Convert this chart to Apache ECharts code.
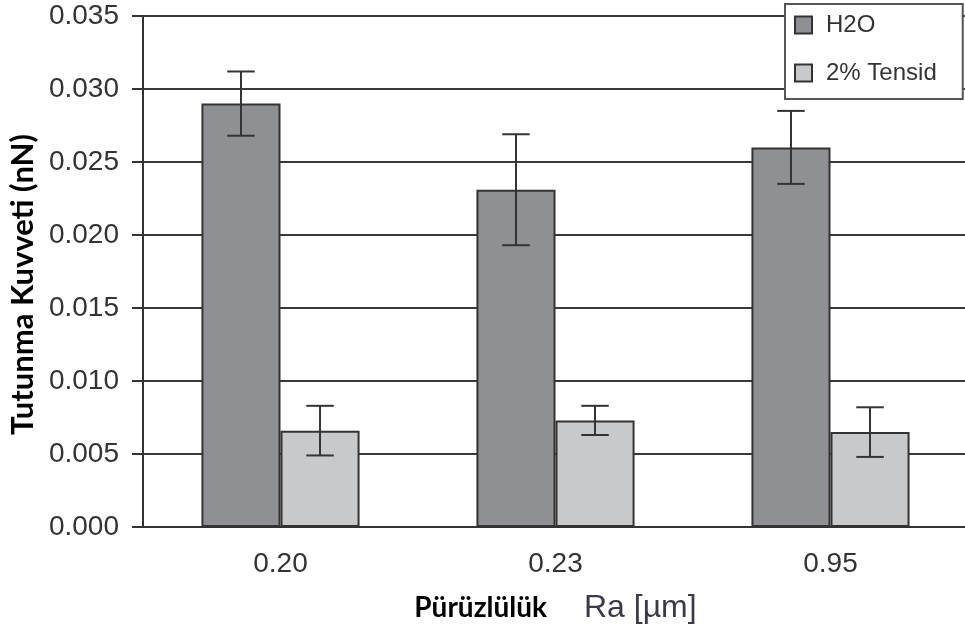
<!DOCTYPE html>
<html>
<head>
<meta charset="utf-8">
<script src="https://cdn.jsdelivr.net/npm/echarts@6/dist/echarts.min.js"></script>
<style>
  html, body { margin: 0; padding: 0; background: #fff; }
  #main { width: 965px; height: 635px; }
</style>
</head>
<body>
<div id="main"></div>
<script>
// values
var categories = ['0.20', '0.23', '0.95'];
var h2oValues = [0.0290, 0.0231, 0.0260];
var h2oErrors = [0.0022, 0.0038, 0.0025];
var tensidValues = [0.0066, 0.0073, 0.0065];
var tensidErrors = [0.0017, 0.0010, 0.0017];
var yTicks = { min: 0, max: 0.035, interval: 0.005 };

var BAR_GAP = '42.5%';
var INK = '#333';

function errorData(values, errors) {
    var list = [];
    for (var i = 0; i < values.length; i++) {
        list.push([i, values[i] - errors[i], values[i] + errors[i]]);
    }
    return list;
}

// draws one error bar; side is -1 for left bar, +1 for right bar
function errorRenderer(side) {
    return function(params, api) {
        var i = api.value(0);
        var lo = api.coord([i, api.value(1)]);
        var hi = api.coord([i, api.value(2)]);
        var band = api.size([1, 0])[0];
        var x = lo[0] + side * band * 0.14375;
        var half = band * 0.05;
        var style = { stroke: INK, lineWidth: 2 };
        return {
            type: 'group',
            children: [
                { type: 'line', shape: { x1: x, y1: lo[1], x2: x, y2: hi[1] }, style: style },
                { type: 'line', shape: { x1: x - half, y1: hi[1], x2: x + half, y2: hi[1] }, style: style },
                { type: 'line', shape: { x1: x - half, y1: lo[1], x2: x + half, y2: lo[1] }, style: style }
            ]
        };
    };
}

var chart = echarts.init(document.getElementById('main'));
chart.setOption({
    animation: false,
    backgroundColor: '#fff',
    textStyle: { fontFamily: 'Liberation Sans', color: INK },
    grid: { left: 143, right: -3, top: 16, bottom: 108, containLabel: false, outerBoundsMode: 'none' },
    legend: {
        orient: 'vertical',
        left: 785,
        top: 4,
        data: ['H2O', '2% Tensid'],
        backgroundColor: '#fff',
        borderColor: '#555',
        borderWidth: 2,
        borderRadius: 0,
        padding: [9, 26, 14, 9],
        itemGap: 24,
        itemWidth: 17,
        itemHeight: 17,
        icon: 'rect',
        selectedMode: false,
        textStyle: { fontSize: 24, lineHeight: 24, color: INK, fontFamily: 'Liberation Sans', padding: [0, 0, 0, 9] }
    },
    xAxis: {
        type: 'category',
        data: categories,
        name: '{b|Pürüzlülük}{n|Ra [µm]}',
        nameLocation: 'middle',
        nameGap: 65,
        nameTextStyle: {
            rich: {
                b: { fontFamily: 'Lato', fontWeight: 'bold', fontSize: 28, color: '#000' },
                n: { fontFamily: 'Liberation Sans', fontSize: 32, color: '#3b3a48', padding: [0, 0, 0, 37] }
            }
        },
        axisLine: { lineStyle: { color: INK, width: 2 } },
        axisTick: { length: 10, lineStyle: { color: INK, width: 2 } },
        axisLabel: { fontSize: 28, color: INK, margin: 23 },
        splitLine: { show: false }
    },
    yAxis: {
        type: 'value',
        min: yTicks.min,
        max: yTicks.max,
        interval: yTicks.interval,
        name: 'Tutunma Kuvveti (nN)',
        nameLocation: 'middle',
        nameGap: 102,
        nameTextStyle: { fontFamily: 'Lato', fontWeight: 'bold', fontSize: 31, color: '#000', padding: [0, 26, 0, 0] },
        axisLine: { show: true, lineStyle: { color: INK, width: 2 } },
        axisTick: { show: true, length: 11, lineStyle: { color: INK, width: 2 } },
        axisLabel: {
            fontSize: 28, color: INK, margin: 24,
            formatter: function(v) { return v.toFixed(3); }
        },
        splitLine: { lineStyle: { color: '#3a3a3a', width: 2 } }
    },
    series: [
        {
            name: 'H2O',
            type: 'bar',
            data: h2oValues,
            barGap: '0%',
            barCategoryGap: BAR_GAP,
            itemStyle: { color: '#8f9094', borderColor: INK, borderWidth: 2 }
        },
        {
            name: '2% Tensid',
            type: 'bar',
            data: tensidValues,
            barGap: '0%',
            barCategoryGap: BAR_GAP,
            itemStyle: { color: '#c8c9cb', borderColor: INK, borderWidth: 2 }
        },
        {
            type: 'custom',
            renderItem: errorRenderer(-1),
            data: errorData(h2oValues, h2oErrors),
            encode: { x: 0, y: [1, 2] },
            z: 10
        },
        {
            type: 'custom',
            renderItem: errorRenderer(1),
            data: errorData(tensidValues, tensidErrors),
            encode: { x: 0, y: [1, 2] },
            z: 10
        }
    ]
});
</script>
</body>
</html>
